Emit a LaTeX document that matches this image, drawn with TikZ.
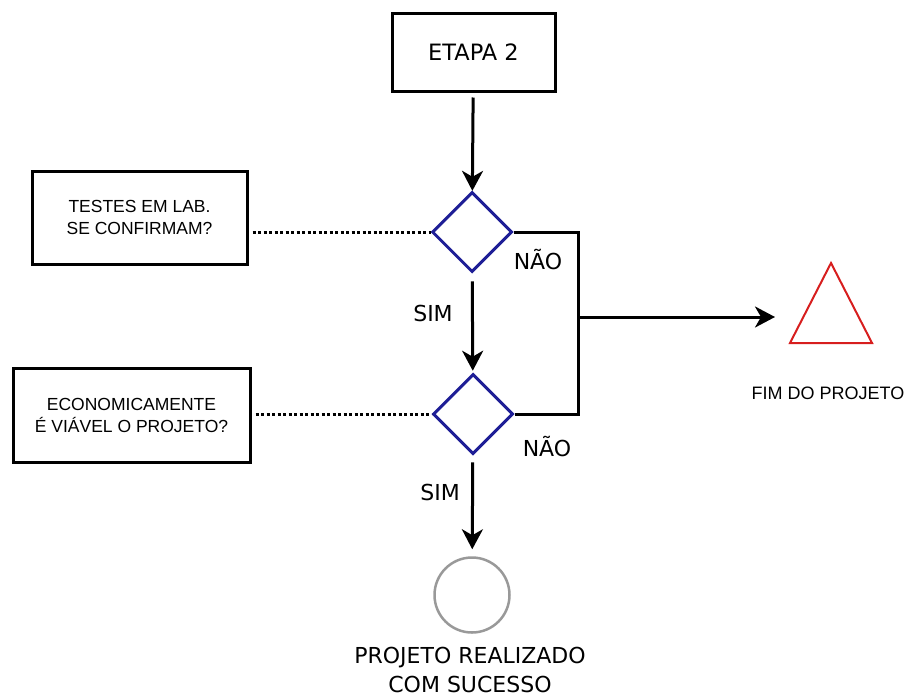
\documentclass[tikz,border=0pt]{standalone}
\usepackage{fontspec}
\setmainfont{DejaVu Sans}
\newfontfamily\boxfont{Liberation Sans}
\usetikzlibrary{shapes.geometric,arrows.meta}
\definecolor{decblue}{RGB}{30,30,150}
\definecolor{fimred}{RGB}{215,30,30}
\tikzset{
  etapabox/.style={draw,line width=3pt,minimum width=163pt,minimum height=78pt},
  notebox/.style={draw,line width=3pt,align=center,font=\boxfont\fontsize{17.5}{22}\selectfont},
  decision/.style={diamond,draw=decblue,line width=3pt,inner sep=0pt,minimum width=80pt,minimum height=80pt},
  flow/.style={line width=3pt,-{Stealth[length=20pt,width=21pt,inset=6pt]}},
  link/.style={line width=3pt},
  dots/.style={line width=3pt,dash pattern=on 3pt off 2.5pt},
  lbl/.style={font=\fontsize{22}{29}\selectfont,align=center}
}
\begin{document}
\begin{tikzpicture}[x=1pt,y=-1pt]
  \useasboundingbox (0,0) rectangle (909,699);
  % nodes
  \node[etapabox,font=\fontsize{22.5}{24}\selectfont] (etapa) at (473.5,52) {ETAPA 2};
  \node[decision] (testes) at (472,232) {};
  \node[decision] (viavel) at (473,414) {};
  \node[notebox,minimum width=215pt,minimum height=93pt] (lab) at (139.5,217.5)
    {TESTES EM LAB.\\SE CONFIRMAM?};
  \node[notebox,minimum width=237pt,minimum height=94pt] (econ) at (131.5,415)
    {ECONOMICAMENTE\\É VIÁVEL O PROJETO?};
  \node[circle,draw=gray!80,line width=2.5pt,minimum size=75pt] (fim) at (472,595) {};
  \coordinate (join) at (578,317);
  \coordinate (fimin) at (775,317);
  % triangle
  \draw[fimred,line width=2pt,line join=miter] (831,263) -- (872,343) -- (790,343) -- cycle;
  % connectors
  \draw[flow,shorten <=5pt] (etapa) -- (testes);
  \draw[flow,shorten <=8pt,shorten >=2pt] (testes) -- (viavel);
  \draw[flow,shorten <=7pt,shorten >=7pt] (viavel) -- (fim);
  \draw[link] (testes.east) -| (join) |- (viavel.east);
  \draw[flow,shorten >=0pt] (join) -- (fimin);
  \draw[dots,shorten <=4pt] (lab.east |- testes.west) -- (testes.west);
  \draw[dots,shorten <=4pt] (econ.east |- viavel.west) -- (viavel.west);
  % labels
  \node[lbl] (sim1) at (433,313) {SIM};
  \node[lbl] (nao1) at (538,260) {NÃO};
  \node[lbl] (nao2) at (547,447) {NÃO};
  \node[lbl] (sim2) at (440,492) {SIM};
  \node[font=\boxfont\fontsize{18}{22}\selectfont] (fimtxt) at (828,393) {FIM DO PROJETO};
  \node[lbl] (sucesso) at (470,670) {PROJETO REALIZADO\\COM SUCESSO};
\end{tikzpicture}
\end{document}
